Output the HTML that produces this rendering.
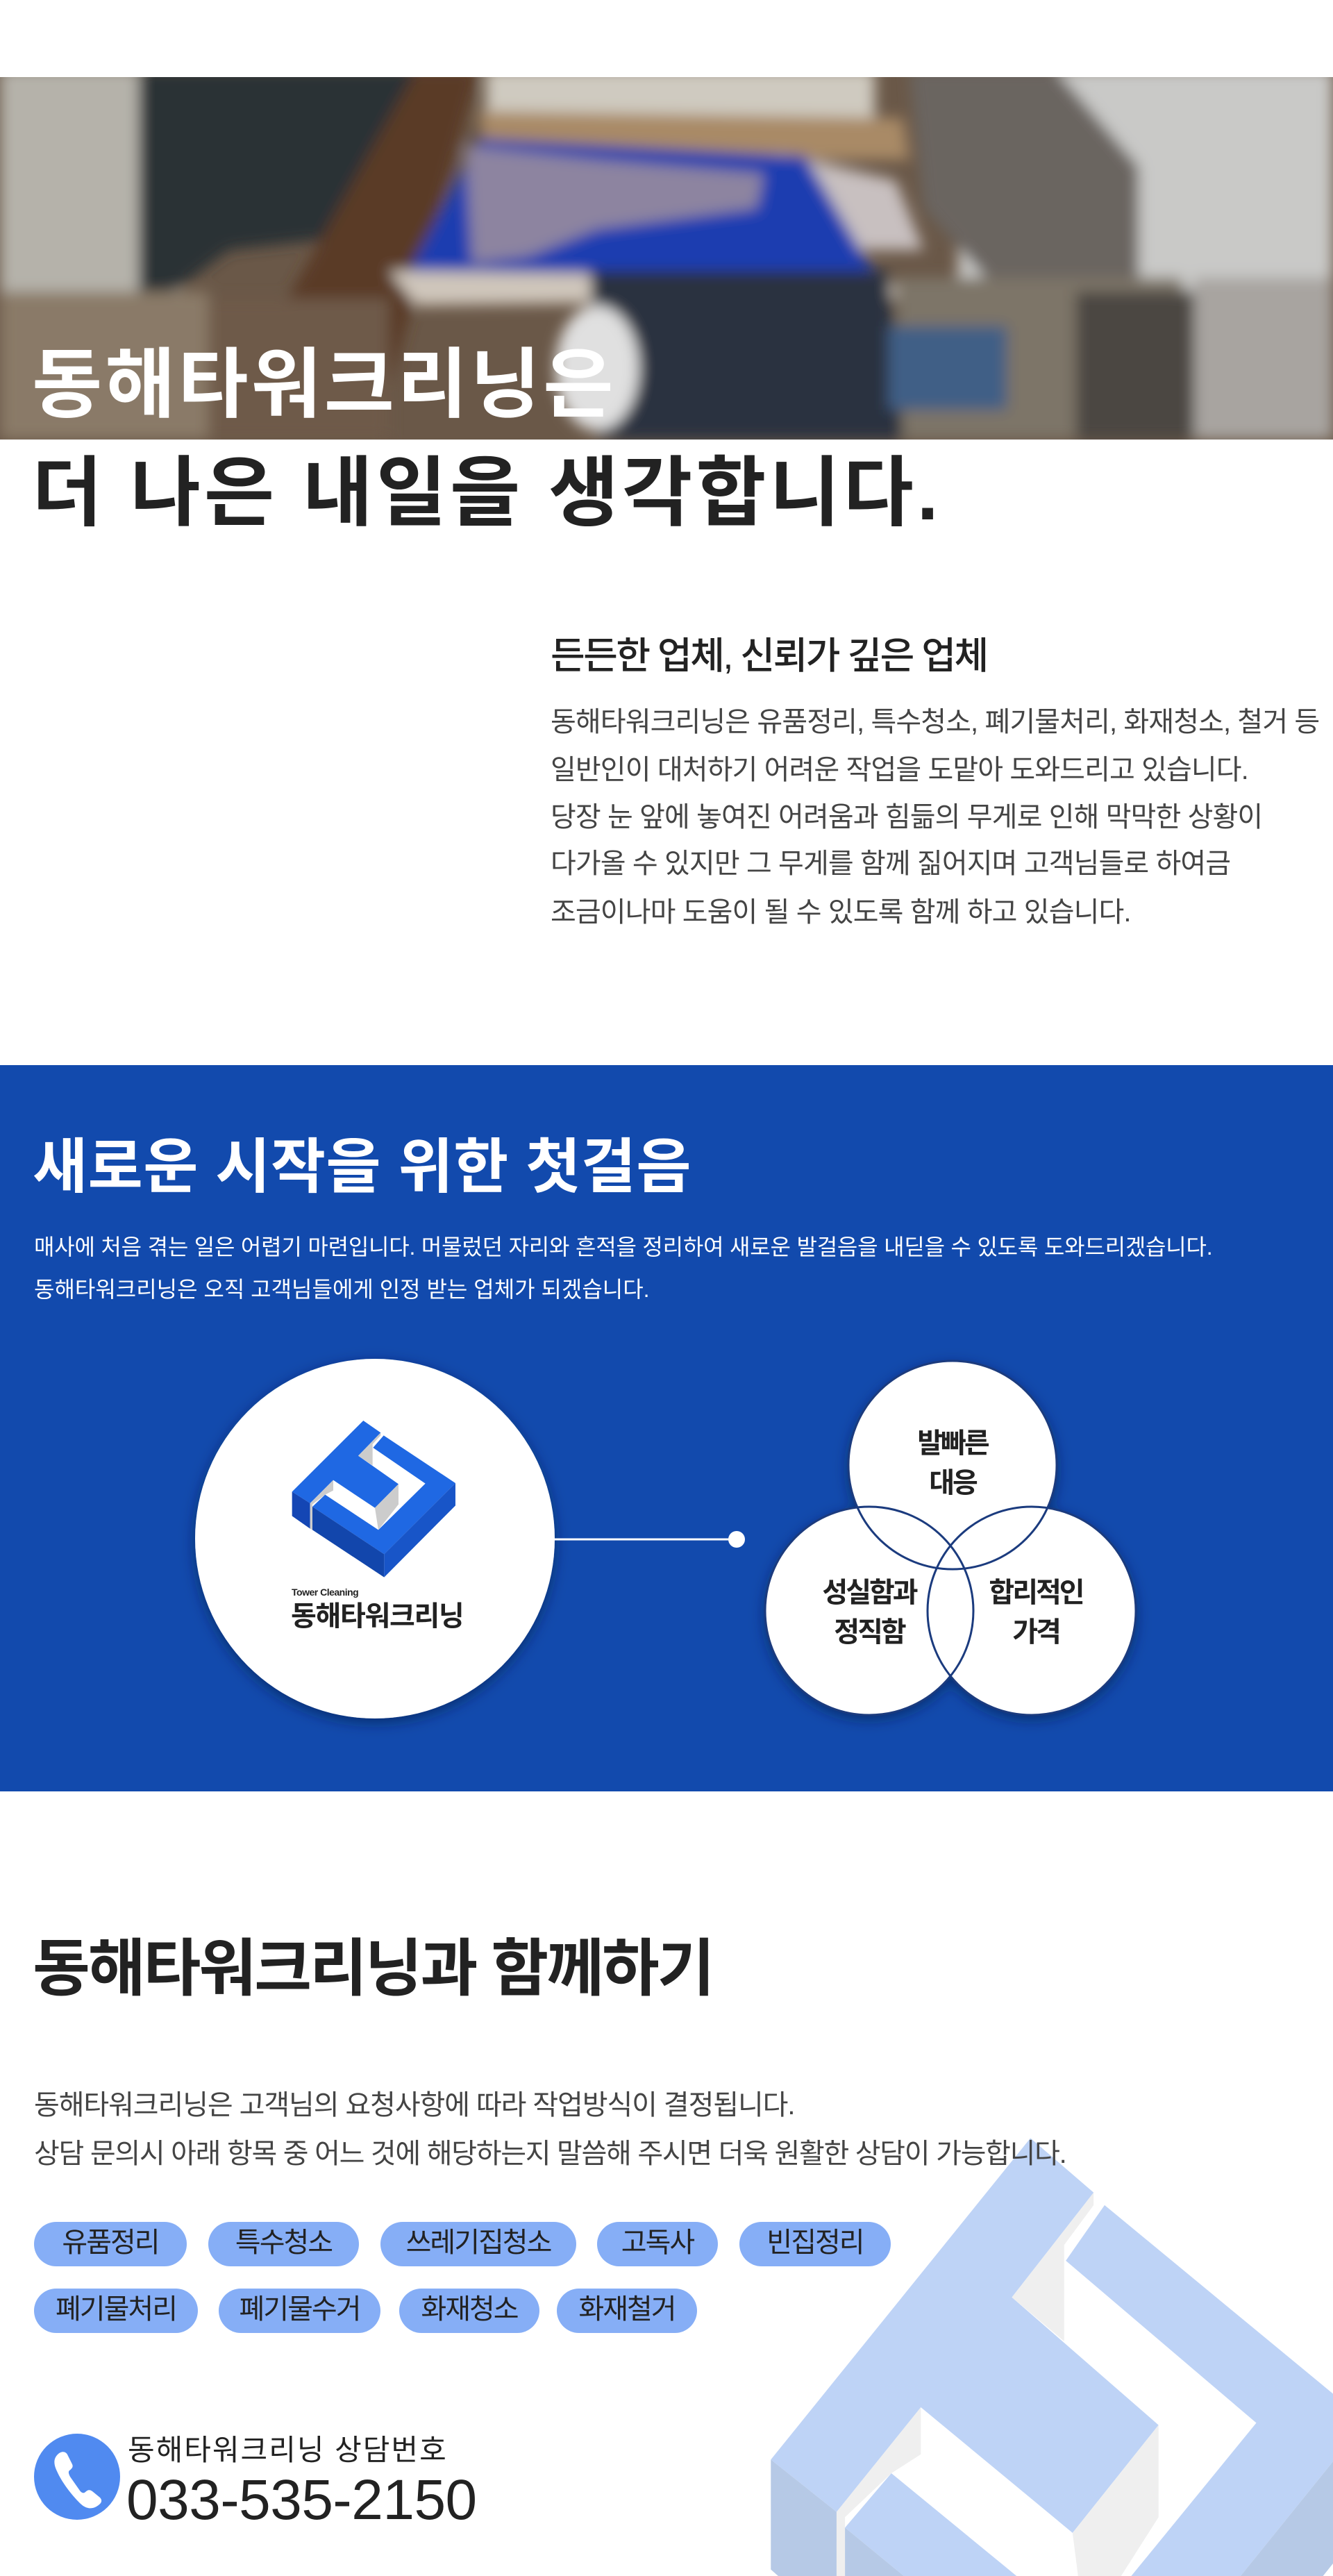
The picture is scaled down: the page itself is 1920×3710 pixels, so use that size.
<!DOCTYPE html>
<html><head><meta charset="utf-8">
<style>
*{margin:0;padding:0;box-sizing:border-box}
html,body{width:1920px;height:3710px;background:#fff;overflow:hidden}
body{position:relative;font-family:"Liberation Sans","Noto Sans CJK KR",sans-serif;color:#222}
.t{position:absolute;white-space:nowrap;line-height:1}
.b{font-weight:700}
.tag{position:absolute;height:64px;border-radius:32px;background:#86aef6;display:flex;align-items:center;justify-content:center;font-size:40px;letter-spacing:-2px;color:#222;line-height:1;padding-bottom:4px}
svg{overflow:hidden}
</style></head><body>

<!-- photo -->
<svg style="position:absolute;left:0;top:111px" width="1920" height="522" viewBox="0 111 1920 522">
<defs><filter id="bl" x="-10%" y="-10%" width="120%" height="120%"><feGaussianBlur stdDeviation="10"/></filter></defs>
<rect x="0" y="111" width="1920" height="522" fill="#6a5848"/>
<g filter="url(#bl)">
<rect x="0" y="100" width="260" height="320" fill="#b5b2aa"/>
<polygon points="200,100 690,100 600,330 330,360 250,420 200,420" fill="#2b3036"/>
<polygon points="600,100 690,100 560,560 420,633 280,633 420,420" fill="#5a3b26"/>
<rect x="700" y="100" width="560" height="80" fill="#cfcac0"/>
<polygon points="690,160 1300,170 1310,230 700,230" fill="#a98a66"/>
<rect x="1380" y="100" width="540" height="533" fill="#c9c9c7"/>
<polygon points="1310,100 1520,100 1640,240 1640,420 1420,400 1330,300" fill="#6b6560"/>
<polygon points="1120,220 1290,260 1330,360 1240,360 1140,300" fill="#c8c0c0"/>
<polygon points="690,200 1160,225 1262,398 590,390" fill="#1d3cb0"/>
<polygon points="670,210 860,230 1100,250 1090,300 860,330 760,370 680,380" fill="#8d84a0"/>
<polygon points="560,390 1280,400 1300,430 600,440" fill="#cfc6bb"/>
<polygon points="850,390 1280,390 1300,633 860,633" fill="#2a3140"/>
<polygon points="1290,400 1700,400 1780,633 1300,633" fill="#7d7467"/>
<rect x="1280" y="470" width="170" height="120" fill="#3f5f86"/>
<rect x="0" y="420" width="300" height="213" fill="#8a7a68"/>
<rect x="300" y="430" width="260" height="203" fill="#6e5a48"/>
<ellipse cx="860" cy="530" rx="60" ry="90" fill="#e0e0e0"/>
<rect x="1720" y="400" width="200" height="233" fill="#a8a4a0"/>
<rect x="1550" y="420" width="170" height="213" fill="#4c4642"/>
</g>
</svg>

<div class="t b" style="left:46px;top:500px;font-size:110px;letter-spacing:4px;color:#fff">동해타워크리닝은</div>
<div class="t b" style="left:46px;top:656px;font-size:110px;letter-spacing:5px;color:#222">더 나은 내일을 생각합니다.</div>

<div class="t" style="left:793px;top:918px;font-size:54px;letter-spacing:-2.5px;font-weight:500;color:#222">든든한 업체, 신뢰가 깊은 업체</div>
<div class="t" style="left:793px;top:1020px;font-size:40px;letter-spacing:-0.9px;color:#444">동해타워크리닝은 유품정리, 특수청소, 폐기물처리, 화재청소, 철거 등</div>
<div class="t" style="left:793px;top:1089px;font-size:40px;letter-spacing:-0.9px;color:#444">일반인이 대처하기 어려운 작업을 도맡아 도와드리고 있습니다.</div>
<div class="t" style="left:793px;top:1157px;font-size:40px;letter-spacing:-0.9px;color:#444">당장 눈 앞에 놓여진 어려움과 힘듦의 무게로 인해 막막한 상황이</div>
<div class="t" style="left:793px;top:1224px;font-size:40px;letter-spacing:-0.9px;color:#444">다가올 수 있지만 그 무게를 함께 짊어지며 고객님들로 하여금</div>
<div class="t" style="left:793px;top:1294px;font-size:40px;letter-spacing:-0.9px;color:#444">조금이나마 도움이 될 수 있도록 함께 하고 있습니다.</div>

<!-- blue section -->
<div style="position:absolute;left:0;top:1534px;width:1920px;height:1046px;background:#124aad"></div>
<div class="t b" style="left:47px;top:1638px;font-size:86px;letter-spacing:0.5px;color:#fff">새로운 시작을 위한 첫걸음</div>
<div class="t" style="left:49px;top:1780px;font-size:32px;letter-spacing:-0.2px;color:#fff">매사에 처음 겪는 일은 어렵기 마련입니다. 머물렀던 자리와 흔적을 정리하여 새로운 발걸음을 내딛을 수 있도록 도와드리겠습니다.</div>
<div class="t" style="left:49px;top:1841px;font-size:32px;letter-spacing:0px;color:#fff">동해타워크리닝은 오직 고객님들에게 인정 받는 업체가 되겠습니다.</div>

<svg style="position:absolute;left:0;top:1534px" width="1920" height="1046" viewBox="0 1534 1920 1046">
<defs><filter id="sh" x="-20%" y="-20%" width="140%" height="140%"><feDropShadow dx="0" dy="6" stdDeviation="10" flood-color="#061a45" flood-opacity="0.6"/></filter></defs>
<circle cx="540" cy="2216" r="259" fill="#fff" filter="url(#sh)"/>
<line x1="798" y1="2217" x2="1058" y2="2217" stroke="#fff" stroke-width="3"/>
<circle cx="1061" cy="2217" r="12" fill="#fff"/>
<g filter="url(#sh)">
<circle cx="1372" cy="2110" r="150" fill="#fff"/>
<circle cx="1252" cy="2320" r="150" fill="#fff"/>
<circle cx="1486" cy="2320" r="150" fill="#fff"/>
</g>
<g fill="none" stroke="#1b3b7e" stroke-width="3">
<circle cx="1372" cy="2110" r="150"/>
<circle cx="1252" cy="2320" r="150"/>
<circle cx="1486" cy="2320" r="150"/>
</g>
<g transform="translate(400,2030) scale(0.3333)">
<polygon points="62,355 370,48 445,100 348,200 522,322 420,425 240,305 140,405" fill="#1f68e3"/>
<polygon points="62,355 140,405 140,515 62,460" fill="#1446b4"/>
<polygon points="348,200 445,100 445,112 410,150 410,242" fill="#cccccc"/>
<polygon points="140,405 240,305 240,350 205,368 150,410 150,520 140,515" fill="#cccccc"/>
<polygon points="420,425 522,322 522,410 435,520" fill="#cccccc"/>
<polygon points="458,112 768,318 460,625 150,420 205,368 435,520 638,320 412,165" fill="#1f68e3"/>
<polygon points="150,420 460,625 460,725 150,520" fill="#1246ac"/>
<polygon points="460,625 768,318 768,415 460,725" fill="#1855c8"/>
</g>
</svg>
<div class="t b" style="left:420px;top:2286px;font-size:14px;letter-spacing:-0.5px;color:#222">Tower Cleaning</div>
<div class="t b" style="left:419px;top:2308px;font-size:40px;letter-spacing:-1.3px;color:#222">동해타워크리닝</div>

<div class="t b" style="left:1272px;width:200px;text-align:center;top:2059px;font-size:40px;letter-spacing:-3px;color:#222">발빠른</div>
<div class="t b" style="left:1272px;width:200px;text-align:center;top:2116px;font-size:40px;letter-spacing:-3px;color:#222">대응</div>
<div class="t b" style="left:1152px;width:200px;text-align:center;top:2274px;font-size:40px;letter-spacing:-3px;color:#222">성실함과</div>
<div class="t b" style="left:1152px;width:200px;text-align:center;top:2331px;font-size:40px;letter-spacing:-3px;color:#222">정직함</div>
<div class="t b" style="left:1392px;width:200px;text-align:center;top:2274px;font-size:40px;letter-spacing:-3px;color:#222">합리적인</div>
<div class="t b" style="left:1392px;width:200px;text-align:center;top:2331px;font-size:40px;letter-spacing:-3px;color:#222">가격</div>

<!-- watermark -->
<svg style="position:absolute;left:0;top:2900px" width="1920" height="810" viewBox="0 2900 1920 810">
<g transform="translate(1035,3007) scale(1.214,1.508)">
<polygon points="62,355 370,48 445,100 348,200 522,322 420,425 240,305 140,405" fill="#bed3f6"/>
<polygon points="62,355 140,405 140,515 62,460" fill="#b6c9e6"/>
<polygon points="348,200 445,100 445,112 410,150 410,242" fill="#efefef"/>
<polygon points="140,405 240,305 240,350 205,368 150,410 150,520 140,515" fill="#efefef"/>
<polygon points="420,425 522,322 522,410 435,520" fill="#efefef"/>
<polygon points="458,112 768,318 460,625 150,420 205,368 435,520 638,320 412,165" fill="#bed3f6"/>
<polygon points="150,420 460,625 460,725 150,520" fill="#b6c9e6"/>
<polygon points="460,625 768,318 768,415 460,725" fill="#b6c9e6"/>
</g>
</svg>

<div class="t b" style="left:47px;top:2791px;font-size:90px;letter-spacing:-3px;color:#222">동해타워크리닝과 함께하기</div>
<div class="t" style="left:49px;top:3012px;font-size:40px;letter-spacing:-1.1px;color:#444">동해타워크리닝은 고객님의 요청사항에 따라 작업방식이 결정됩니다.</div>
<div class="t" style="left:49px;top:3082px;font-size:40px;letter-spacing:-1.3px;color:#444">상담 문의시 아래 항목 중 어느 것에 해당하는지 말씀해 주시면 더욱 원활한 상담이 가능합니다.</div>

<div class="tag" style="left:49px;top:3200px;width:220px">유품정리</div>
<div class="tag" style="left:300px;top:3200px;width:217px">특수청소</div>
<div class="tag" style="left:548px;top:3200px;width:282px">쓰레기집청소</div>
<div class="tag" style="left:860px;top:3200px;width:174px">고독사</div>
<div class="tag" style="left:1065px;top:3200px;width:218px">빈집정리</div>
<div class="tag" style="left:49px;top:3296px;width:236px">폐기물처리</div>
<div class="tag" style="left:315px;top:3296px;width:233px">폐기물수거</div>
<div class="tag" style="left:575px;top:3296px;width:202px">화재청소</div>
<div class="tag" style="left:802px;top:3296px;width:202px">화재철거</div>

<svg style="position:absolute;left:49px;top:3505px" width="124" height="124" viewBox="0 0 124 124">
<circle cx="62" cy="62" r="62" fill="#508af0"/>
<path d="M34 30 C40 24 46 26 48 30 L55 44 C57 48 54 51 51 53 C49 55 50 58 52 62 L66 82 C69 86 72 86 74 84 C77 81 80 80 84 83 L95 92 C98 95 98 99 94 102 C86 109 76 110 66 100 C54 88 40 70 33 54 C28 44 28 36 34 30 Z" fill="#fff"/>
</svg>
<div class="t" style="left:184px;top:3508px;font-size:42px;letter-spacing:2px;color:#222">동해타워크리닝 상담번호</div>
<div class="t" style="left:182px;top:3560px;font-size:82px;letter-spacing:-0.5px;color:#222;font-family:'Liberation Sans',sans-serif">033-535-2150</div>

</body></html>
